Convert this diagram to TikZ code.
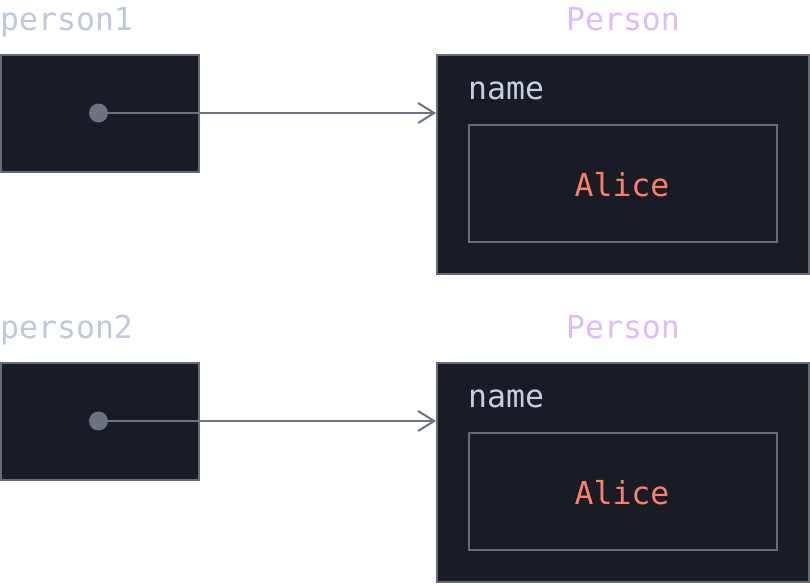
\documentclass[tikz,border=0pt]{standalone}
\usepackage{fontspec}
\setmonofont{DejaVu Sans Mono}
\usetikzlibrary{arrows.meta, positioning}

\definecolor{boxbg}{HTML}{1A1C25}
\definecolor{edge}{HTML}{646B79}
\definecolor{dotgray}{HTML}{6B7280}
\definecolor{varname}{HTML}{BDC8DA}
\definecolor{typename}{HTML}{DDBBFD}
\definecolor{fieldname}{HTML}{C5CFE0}
\definecolor{strval}{HTML}{FA7F6C}

\begin{document}
\begin{tikzpicture}[x=1pt, y=-1pt,
    every node/.style={font=\ttfamily\fontsize{31.5}{36}\selectfont},
    varbox/.style={draw=edge, line width=2pt, fill=boxbg, minimum width=198pt, minimum height=117pt, inner sep=0pt},
    objbox/.style={draw=edge, line width=2pt, fill=boxbg, minimum width=372pt, minimum height=219pt, inner sep=0pt},
    fieldbox/.style={draw=edge, line width=1.5pt, minimum width=308pt, minimum height=117pt, inner sep=0pt},
    refdot/.style={circle, fill=dotgray, minimum size=19pt, inner sep=0pt},
    reflink/.style={draw=dotgray, line width=2pt, -{Straight Barb[length=16pt, width=20pt, line width=2pt]}},
    lbl/.style={inner sep=0pt}]
  \useasboundingbox (0,0) rectangle (810,584);

  % first reference
  \node[lbl, varname, anchor=base west] (var1) at (0,30) {person1};
  \node[varbox] (box1) at (100,113.5) {};
  \node[refdot] (dot1) at (98.5,113) {};
  \node[lbl, typename, anchor=base] (type1) at (623,30) {Person};
  \node[objbox] (obj1) at (623,164.5) {};
  \node[lbl, fieldname, anchor=base west] (field1) at (468,99.5) {name};
  \node[fieldbox] (slot1) at (623,183.5) {};
  \node[lbl, strval, anchor=base] (val1) at (622,196.5) {Alice};
  \draw[reflink] (dot1.center) -- (dot1 -| obj1.west);

  % second reference
  \node[lbl, varname, anchor=base west] (var2) at (0,338) {person2};
  \node[varbox] (box2) at (100,421.5) {};
  \node[refdot] (dot2) at (98.5,421) {};
  \node[lbl, typename, anchor=base] (type2) at (623,338) {Person};
  \node[objbox] (obj2) at (623,472.5) {};
  \node[lbl, fieldname, anchor=base west] (field2) at (468,407.5) {name};
  \node[fieldbox] (slot2) at (623,491.5) {};
  \node[lbl, strval, anchor=base] (val2) at (622,504.5) {Alice};
  \draw[reflink] (dot2.center) -- (dot2 -| obj2.west);
\end{tikzpicture}
\end{document}
